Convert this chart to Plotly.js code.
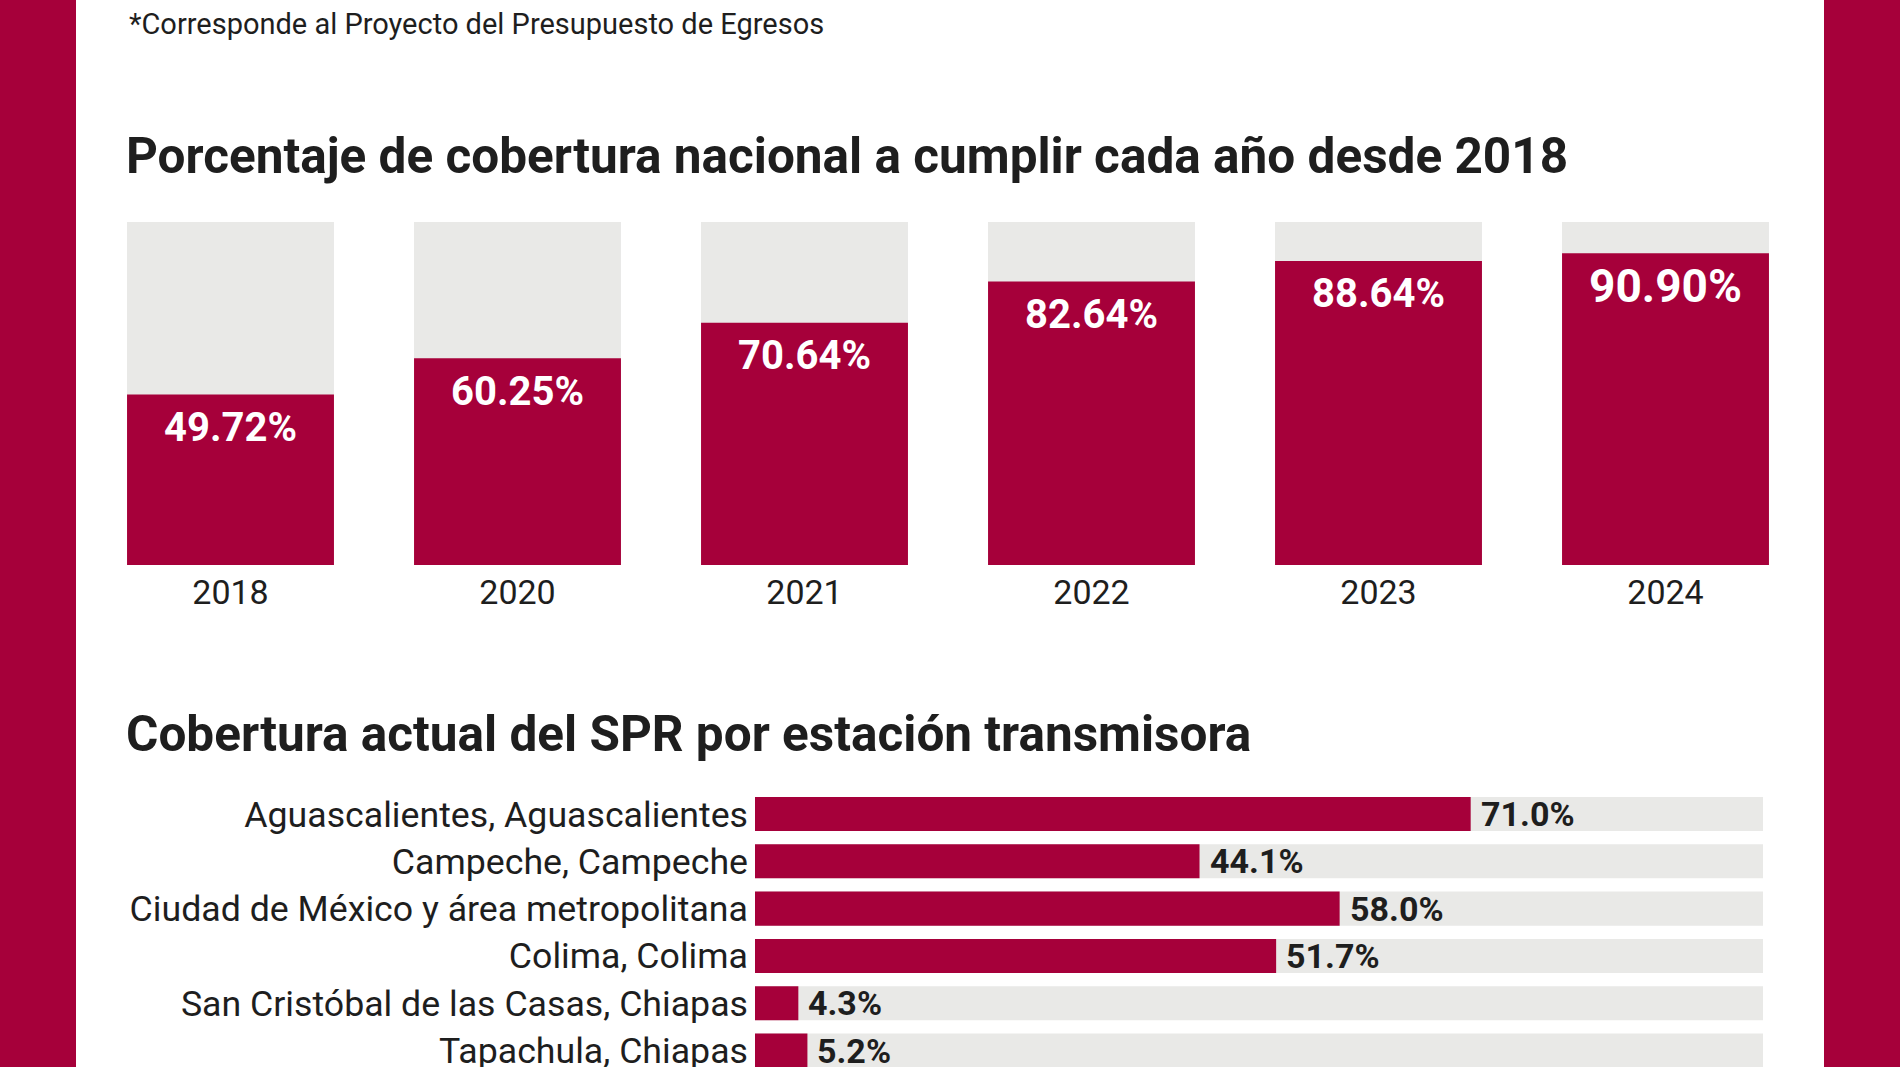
<!DOCTYPE html>
<html>
<head>
<meta charset="utf-8">
<script src="https://cdn.plot.ly/plotly-3.0.1.min.js"></script>
<style>
  html, body { margin: 0; padding: 0; background: #ffffff; }
  #chart { width: 1900px; height: 1067px; }
</style>
</head>
<body>
<div id="chart"></div>
<script>
// ---- Data ----
const footnote = '*Corresponde al Proyecto del Presupuesto de Egresos';
const title1 = 'Porcentaje de cobertura nacional a cumplir cada año desde 2018';
const title2 = 'Cobertura actual del SPR por estación transmisora';

const years = ['2018', '2020', '2021', '2022', '2023', '2024'];
const yearValues = [49.72, 60.25, 70.64, 82.64, 88.64, 90.90];

const stations = [
  'Aguascalientes, Aguascalientes',
  'Campeche, Campeche',
  'Ciudad de México y área metropolitana',
  'Colima, Colima',
  'San Cristóbal de las Casas, Chiapas',
  'Tapachula, Chiapas'
];
const stationValues = [71.0, 44.1, 58.0, 51.7, 4.3, 5.2];

const fullScale = 100;

// ---- Styles ----
const RED = '#A6003A';
const GRAY = '#E9E9E7';
const DARK = '#1e1e1e';
const FONT = 'Roboto, "Open Sans", sans-serif';
const W = 1900, H = 1067;

const traces = [
  { type: 'bar', x: years, y: years.map(() => fullScale), xaxis: 'x', yaxis: 'y',
    marker: { color: GRAY }, hoverinfo: 'skip', showlegend: false },
  { type: 'bar', x: years, y: yearValues, xaxis: 'x', yaxis: 'y',
    marker: { color: RED }, hoverinfo: 'skip', showlegend: false },
  { type: 'bar', orientation: 'h', y: stations, x: stations.map(() => fullScale), xaxis: 'x2', yaxis: 'y2',
    marker: { color: GRAY }, hoverinfo: 'skip', showlegend: false, width: 0.72 },
  { type: 'bar', orientation: 'h', y: stations, x: stationValues, xaxis: 'x2', yaxis: 'y2',
    marker: { color: RED }, hoverinfo: 'skip', showlegend: false, width: 0.72 }
];

const annotations = [];
annotations.push({ xref: 'paper', yref: 'paper', x: 127 / W, y: 1 - 24 / H, xanchor: 'left', yanchor: 'middle',
  text: footnote, showarrow: false, font: { family: FONT, size: 29, color: DARK } });
annotations.push({ xref: 'paper', yref: 'paper', x: 124 / W, y: 1 - 156 / H, xanchor: 'left', yanchor: 'middle',
  text: '<b>' + title1 + '</b>', showarrow: false, font: { family: FONT, size: 49.5, color: DARK } });
annotations.push({ xref: 'paper', yref: 'paper', x: 124 / W, y: 1 - 734 / H, xanchor: 'left', yanchor: 'middle',
  text: '<b>' + title2 + '</b>', showarrow: false, font: { family: FONT, size: 49.5, color: DARK } });

// category positions are given by index (numeric-looking category names would be read as indices)
years.forEach((yr, i) => {
  annotations.push({ xref: 'x', yref: 'y', x: i, y: yearValues[i], xanchor: 'center', yanchor: 'middle',
    yshift: -33, text: '<b>' + yearValues[i].toFixed(2) + '%</b>', showarrow: false,
    font: { family: FONT, size: yr === '2024' ? 46 : 40, color: '#ffffff' } });
});
stations.forEach((st, i) => {
  annotations.push({ xref: 'x2', yref: 'y2', x: stationValues[i], y: i, xanchor: 'left', yanchor: 'middle',
    xshift: 8, text: '<b>' + stationValues[i].toFixed(1) + '%</b>', showarrow: false,
    font: { family: FONT, size: 34, color: DARK } });
});

const layout = {
  width: W, height: H,
  margin: { l: 0, r: 0, t: 0, b: 0 },
  paper_bgcolor: '#ffffff', plot_bgcolor: 'rgba(0,0,0,0)',
  barmode: 'overlay',
  bargap: 0.279,
  showlegend: false,
  font: { family: FONT, color: DARK },
  xaxis: { domain: [87 / W, 1809 / W], type: 'category', range: [-0.5, 5.5], automargin: false,
    showgrid: false, zeroline: false, showline: false, ticks: '', fixedrange: true,
    tickfont: { family: FONT, size: 34, color: DARK }, ticklabelstandoff: 4 },
  yaxis: { domain: [1 - 565 / H, 1 - 222 / H], range: [0, 100], automargin: false,
    showgrid: false, zeroline: false, showline: false, showticklabels: false, ticks: '', fixedrange: true },
  xaxis2: { domain: [755 / W, 1763 / W], range: [0, 100], anchor: 'y2', automargin: false,
    showgrid: false, zeroline: false, showline: false, showticklabels: false, ticks: '', fixedrange: true },
  yaxis2: { domain: [0, 1 - 790.4 / H], type: 'category', range: [5.348, -0.5], anchor: 'x2', automargin: false,
    showgrid: false, zeroline: false, showline: false, ticks: '', fixedrange: true,
    tickfont: { family: FONT, size: 35.7, color: DARK }, ticklabelstandoff: 6 },
  shapes: [
    { type: 'rect', xref: 'paper', yref: 'paper', x0: 0, x1: 76 / W, y0: 0, y1: 1, line: { width: 0 }, fillcolor: RED, layer: 'below' },
    { type: 'rect', xref: 'paper', yref: 'paper', x0: 1824 / W, x1: 1, y0: 0, y1: 1, line: { width: 0 }, fillcolor: RED, layer: 'below' }
  ],
  annotations: annotations
};

Plotly.newPlot('chart', traces, layout, { staticPlot: true, displayModeBar: false });
</script>
</body>
</html>
